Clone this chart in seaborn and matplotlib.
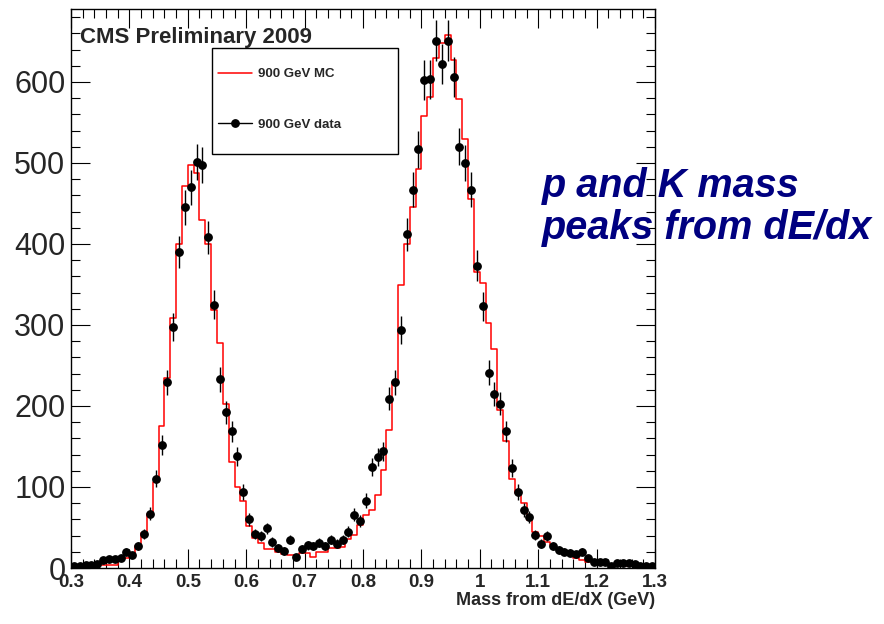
import numpy as np
import pandas as pd
import matplotlib
matplotlib.use("Agg")
import matplotlib.pyplot as plt
import seaborn as sns
from matplotlib.lines import Line2D
from matplotlib.patches import Rectangle
from matplotlib.ticker import MultipleLocator

# ---------------- data ----------------
x_min, x_max, n_bins = 0.3, 1.3, 100

data_counts = [
    2, 3, 4, 4, 5, 10, 11, 11, 12, 20,
    16, 27, 42, 67, 110, 152, 229, 297, 390, 445,
    470, 501, 497, 408, 325, 233, 192, 169, 138, 94,
    60, 42, 39, 49, 32, 25, 21, 35, 14, 23,
    28, 27, 31, 27, 35, 30, 35, 45, 66, 58,
    83, 125, 137, 144, 209, 229, 294, 412, 467, 517,
    602, 603, 651, 622, 651, 606, 520, 500, 467, 373,
    323, 241, 215, 203, 169, 124, 94, 72, 63, 41,
    30, 39, 27, 22, 20, 19, 17, 20, 12, 8,
    7, 8, 2, 6, 6, 6, 5, 3, 3, 3,
]

mc_counts = [
    2, 2, 3, 3, 3, 4, 4, 4, 10, 12,
    17, 27, 43, 67, 106, 175, 235, 309, 400, 471,
    497, 487, 430, 400, 319, 278, 203, 131, 100, 83,
    52, 37, 31, 24, 24, 20, 17, 16, 16, 18,
    18, 13, 20, 20, 25, 25, 26, 36, 41, 53,
    65, 72, 90, 121, 170, 229, 349, 400, 445, 493,
    558, 581, 630, 648, 658, 627, 579, 530, 455, 365,
    352, 302, 270, 195, 157, 110, 92, 80, 59, 45,
    39, 32, 29, 24, 18, 18, 12, 10, 8, 7,
    6, 5, 5, 4, 4, 3, 3, 3, 2, 2,
]

x_ticks = [0.3, 0.4, 0.5, 0.6, 0.7, 0.8, 0.9, 1.0, 1.1, 1.2, 1.3]
x_tick_labels = ["0.3", "0.4", "0.5", "0.6", "0.7", "0.8", "0.9", "1", "1.1", "1.2", "1.3"]
y_ticks = [0, 100, 200, 300, 400, 500, 600]
y_tick_labels = ["0", "100", "200", "300", "400", "500", "600"]
legend_labels = ["900 GeV MC", "900 GeV data"]
title_text = "CMS Preliminary 2009"
x_label = "Mass from dE/dX (GeV)"
note_lines = ["p and K mass", "peaks from dE/dx"]

# ---------------- style ----------------
sns.set_theme(style="ticks")
plt.rcParams["font.family"] = ["Liberation Sans", "DejaVu Sans"]
plt.rcParams["axes.linewidth"] = 1.0
plt.rcParams["axes.edgecolor"] = "black"

fig = plt.figure(figsize=(8.84, 6.24), dpi=100)
ax = fig.add_axes([71 / 884, 56 / 624, 584 / 884, 559 / 624])

bin_w = (x_max - x_min) / n_bins
centers = x_min + bin_w * (np.arange(n_bins) + 0.5)
df = pd.DataFrame({"mass": centers, "mc": mc_counts, "data": data_counts})

sns.histplot(data=df, x="mass", weights="mc", bins=n_bins,
             binrange=(x_min, x_max), element="step", fill=False,
             color="#ff0000", linewidth=1.1, ax=ax, zorder=2)

counts = df["data"].to_numpy(dtype=float)
ax.errorbar(df["mass"], counts, yerr=np.sqrt(counts), xerr=bin_w / 2, fmt="o",
            color="black", ms=5.3, elinewidth=1.0, capsize=0, zorder=3)

ax.set_xlim(x_min, x_max)
ax.set_ylim(0, 690)
ax.set_ylabel("")
ax.set_xticks(x_ticks, x_tick_labels, fontsize=13.5, fontweight="bold")
ax.set_yticks(y_ticks, y_tick_labels, fontsize=22)
ax.xaxis.set_minor_locator(MultipleLocator(0.02))
ax.yaxis.set_minor_locator(MultipleLocator(20))
ax.tick_params(which="both", direction="in", top=True, right=True,
               color="black", width=0.8)
ax.tick_params(which="major", length=13.5)
ax.tick_params(which="minor", length=6.5)
ax.tick_params(axis="y", pad=4)
ax.tick_params(axis="x", pad=4)
ax.grid(False)
for s in ax.spines.values():
    s.set_visible(True)
    s.set_color("black")

ax.set_xlabel(x_label, loc="right", fontsize=13, fontweight="bold", labelpad=1)

ax.text(0.0154, 0.9397, title_text, transform=ax.transAxes, fontsize=16,
        fontweight="bold", va="baseline", ha="left")

# legend frame + legend
ax.add_patch(Rectangle((0.242, 0.7406), 0.3185, 0.189, transform=ax.transAxes,
                       facecolor="white", edgecolor="black", lw=1.0, zorder=4))
handles = [Line2D([], [], color="#ff0000", lw=1.1),
           Line2D([], [], color="black", lw=1.0, marker="o", ms=5.3)]
leg = ax.legend(handles, legend_labels, loc="upper left",
                bbox_to_anchor=(0.251, 0.894), frameon=False, borderpad=0,
                borderaxespad=0, handlelength=2.6, handletextpad=0.45,
                labelspacing=2.9, prop={"weight": "bold", "size": 9.5})
leg.set_zorder(5)

note_color = "#000080"
fig.text(542 / 884, 1 - 197 / 624, note_lines[0], fontsize=28.5, fontweight="bold",
         style="italic", color=note_color, va="baseline", ha="left")
fig.text(542 / 884, 1 - 239 / 624, note_lines[1], fontsize=28.5, fontweight="bold",
         style="italic", color=note_color, va="baseline", ha="left")

fig.savefig("out.png", dpi=100)
